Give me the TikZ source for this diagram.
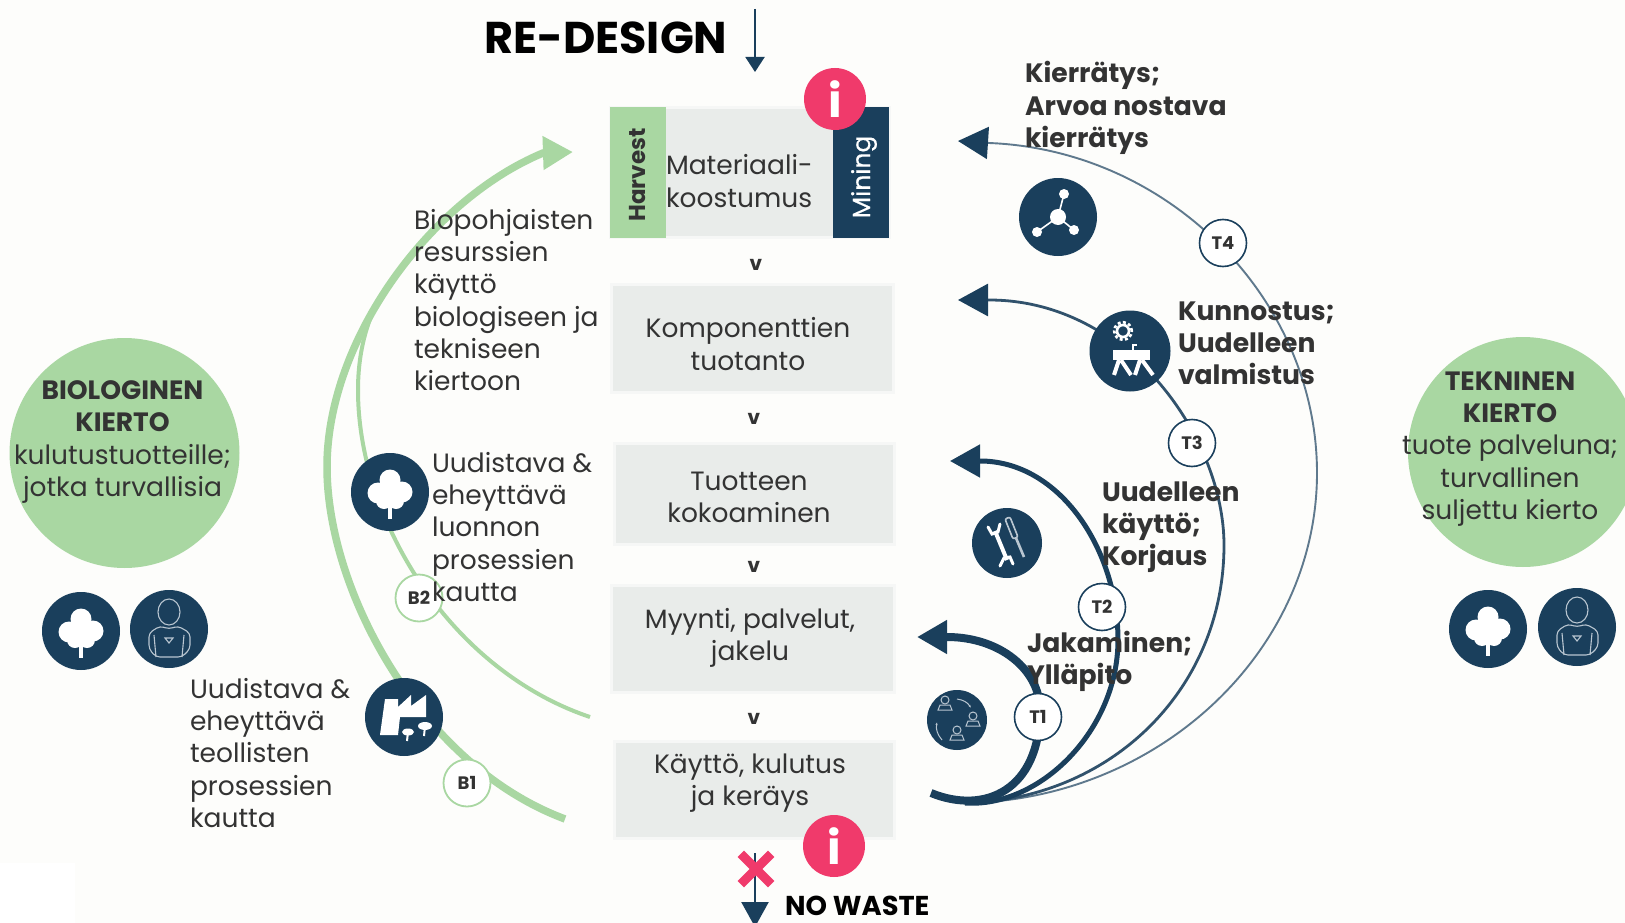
\documentclass[tikz,border=0pt]{standalone}
\usepackage{fontspec}
\setmainfont{Poppins}
\newfontfamily\medfont[FakeBold=0.35]{Poppins}
\usetikzlibrary{arrows.meta}
\definecolor{navyc}{HTML}{1A3F5C}
\definecolor{greenc}{HTML}{A9D7A2}
\definecolor{boxc}{HTML}{E9ECEA}
\definecolor{boxl}{HTML}{F6F7F6}
\definecolor{pinkc}{HTML}{F03A6B}
\definecolor{inkc}{HTML}{333333}
\definecolor{bgc}{HTML}{FDFDFB}
\definecolor{glyphl}{HTML}{B9C6D1}
\tikzset{
  bodytxt/.style={font=\fontsize{26.5}{32.2}\selectfont,text=inkc,inner sep=0,outer sep=0,align=left,anchor=west},
  midtxt/.style={font=\fontsize{26.5}{32.2}\selectfont,text=inkc,inner sep=0,outer sep=0,align=center},
  boldtxt/.style={font=\fontsize{26.6}{32.2}\selectfont\bfseries,text=inkc,inner sep=0,outer sep=0,align=left,anchor=west},
  stagebox/.style={fill=boxc,draw=boxl,line width=3pt,inner sep=0,outer sep=0},
  bigcirc/.style={circle,fill=greenc,minimum size=230pt,inner sep=0,outer sep=0},
  iconc/.style={circle,fill=navyc,inner sep=0,outer sep=0},
  tagT/.style={circle,fill=white,draw=navyc,line width=1.6pt,minimum size=47pt,inner sep=0,font=\fontsize{18}{18}\selectfont\bfseries,text=inkc},
  tagB/.style={circle,fill=white,draw=greenc,line width=1.8pt,minimum size=47pt,inner sep=0,font=\fontsize{18}{18}\selectfont\bfseries,text=inkc},
  infoc/.style={circle,fill=pinkc,minimum size=62pt,inner sep=0,text=white,font=\fontsize{46}{46}\selectfont\bfseries},
  chev/.style={font=\fontsize{20}{20}\selectfont\bfseries,text=inkc,inner sep=0},
  headn/.style={-{Triangle[length=30pt,width=32pt,color=navyc,fill=navyc]}},
  headg/.style={-{Triangle[length=30pt,width=32pt]},greenc},
  treeglyph/.pic={
    \fill[white] (0,-12) circle[radius=10.5pt] (-12,1) circle[radius=10.5pt] (12,0) circle[radius=10.5pt]
      (-6,9) circle[radius=8pt] (6,9) circle[radius=8pt] (0,0) circle[radius=13pt];
    \draw[white,line width=4pt] (0,10) -- (0,27);
  },
  personglyph/.pic={
    \draw[glyphl,line width=1.1pt] (0,-17) ellipse[x radius=11pt,y radius=13pt];
    \draw[glyphl,line width=1.1pt,rounded corners=4pt] (-9,-3) -- (-20,4) -- (-20,20) -- (-13,28) -- (13,28) -- (21,20) -- (21,4) -- (9,-3) -- (0,0) -- cycle;
    \draw[glyphl,line width=1.1pt] (-15,6) -- (-13,28) (15,6) -- (13,28);
    \draw[glyphl,line width=1.1pt] (-4,9) -- (4,9) -- (0,14) -- cycle;
  },
  moleculeglyph/.pic={
    \draw[white,line width=1.6pt] (0,0) -- (6,-23) (0,0) -- (-21,15) (0,0) -- (16,13);
    \fill[white] (0,0) circle[radius=8pt] (6,-23) circle[radius=5pt] (-21,15) circle[radius=5pt] (16,13) circle[radius=5pt];
  },
  benchglyph/.pic={
    \draw[white,line width=2.6pt] (-7,-20) circle[radius=6pt];
    \draw[white,line width=2.6pt,dash pattern=on 3pt off 2.4pt] (-7,-20) circle[radius=8.8pt];
    \fill[white] (-17,-1) -- (20,-1) -- (20,9) -- (-17,9) -- cycle;
    \draw[white,line width=1.6pt] (3,-1) -- (3,-6) -- (7,-6);
    \draw[white,line width=4pt] (-11,9) -- (-16,24) (-9,9) -- (1,24) (10,9) -- (5,24) (12,9) -- (23,24);
  },
  toolglyph/.pic={
    \draw[white,line width=4pt] (-12,-12) -- (0,17);
    \draw[white,line width=3pt,line cap=round] (-19,-16) -- (-15,-9) -- (-9,-11) -- (-7,-19);
    \draw[white,line width=3pt,line cap=round] (-7,23) -- (-3,15) -- (3,14) -- (6,21);
    \draw[glyphl,line width=1.6pt,rounded corners=2pt] (-2,-24) -- (3,-26) -- (11,-6) -- (6,-4) -- cycle;
    \draw[glyphl,line width=2.6pt] (9,-5) -- (17,14);
  },
  peopleglyph/.pic={
    \foreach \px/\py in {-12/-17,16/-1,0/13}{
      \draw[glyphl,line width=1pt] (\px,\py-3) circle[radius=4pt];
      \draw[glyphl,line width=1pt] (\px-7,\py+7) -- (\px-5,\py+2) -- (\px+5,\py+2) -- (\px+7,\py+7) -- cycle;
    }
    \draw[glyphl,line width=1pt,-{Latex[length=3pt]}] (0,-21) to[bend left=25] (14,-12);
    \draw[glyphl,line width=1pt,-{Latex[length=3pt]}] (-15,20) to[bend left=25] (-20,2);
  },
  factoryglyph/.pic={
    \fill[white] (-24,18) -- (-19,-18) -- (-6,-18) -- (-6,-10) -- (7,-22) -- (7,-11) -- (22,-22) -- (22,0) -- (-4,0) -- (-6,18) -- cycle;
    \draw[white,line width=2pt] (4,15) -- (3,24) (21,9) -- (20,19);
    \fill[white] (4,15) ellipse[x radius=6pt,y radius=3.5pt] (21,9) ellipse[x radius=7pt,y radius=4pt];
  }
}
\begin{document}
\begin{tikzpicture}[x=1pt,y=-1pt]
\fill[bgc] (0,0) rectangle (1625,923);
\useasboundingbox (0,0) rectangle (1625,923);
\fill[white] (0,863) rectangle (75,923);

% free ends of the cycle arrows
\coordinate (b1s) at (565,819);
\coordinate (b1m) at (327,467);
\coordinate (b1e) at (543,153);
\coordinate (b1t) at (573,152);
\coordinate (b2s) at (590,717);
\coordinate (b2m) at (358,390);
\coordinate (b2e) at (385,290);
\coordinate (t0) at (931,793);
\coordinate (t0b) at (965,803);
\coordinate (t1b) at (947,637);
\coordinate (t1t) at (917,637);
\coordinate (t2b) at (980,461);
\coordinate (t2t) at (950,461);
\coordinate (t3b) at (989,300);
\coordinate (t3t) at (958,300);
\coordinate (t4b) at (989,143);
\coordinate (t4t) at (958,141);
\coordinate (rd1) at (755,9);
\coordinate (rd2) at (755,72);
\coordinate (nw1) at (755,853);
\coordinate (nw2) at (755,927);

% green arcs
\draw[headg,line width=7.5pt] (b1s) .. controls (420,765) and (327,590) .. (b1m) .. controls (327,340) and (430,200) .. (b1e) -- (b1t);
\draw[greenc,line width=4pt] (b2s) .. controls (450,670) and (358,520) .. (b2m) .. controls (358,350) and (368,315) .. (b2e);

% navy arcs
\draw[headn,line width=1.9pt,draw=navyc!70] (t0b) .. controls (1160,800) and (1317,650) .. (1317,473) .. controls (1317,300) and (1170,150) .. (t4b) -- (t4t);
\draw[headn,line width=2.8pt,draw=navyc!90] (t0b) .. controls (1110,800) and (1224,690) .. (1224,545) .. controls (1224,440) and (1130,300) .. (t3b) -- (t3t);
\draw[headn,line width=5pt,draw=navyc] (t0b) .. controls (1040,808) and (1118,730) .. (1118,640) .. controls (1118,550) and (1060,461) .. (t2b) -- (t2t);
\draw[headn,line width=8pt,draw=navyc] (t0) .. controls (985,815) and (1040,790) .. (1040,710) .. controls (1040,670) and (1000,637) .. (t1b) -- (t1t);

% stage boxes
\node[stagebox,minimum width=279pt,minimum height=129pt] (box1) at (749.5,172.5) {};
\node[fill=greenc,inner sep=0,minimum width=56pt,minimum height=130pt] (harv) at (638,172.5) {};
\node[fill=navyc,inner sep=0,minimum width=56pt,minimum height=130pt] (mine) at (861,172.5) {};
\node[rotate=90,inner sep=0,text=inkc,font=\fontsize{23}{23}\selectfont\bfseries] (harvtxt) at (638,175) {Harvest};
\node[rotate=90,inner sep=0,text=white,font=\fontsize{25}{25}\selectfont\medfont] (minetxt) at (864,177) {Mining};
\node[stagebox,minimum width=282pt,minimum height=108pt] (box2) at (752,338) {};
\node[stagebox,minimum width=280pt,minimum height=101pt] (box3) at (754.5,493.5) {};
\node[stagebox,minimum width=283pt,minimum height=107pt] (box4) at (752.5,638.5) {};
\node[stagebox,minimum width=280pt,minimum height=97pt] (box5) at (754,790) {};

\node[bodytxt] (t1box) at (666,181) {Materiaali-\\koostumus};
\node[midtxt] (t2box) at (748,344) {Komponenttien\\tuotanto};
\node[midtxt] (t3box) at (749,497) {Tuotteen\\kokoaminen};
\node[midtxt] (t4box) at (750,638) {Myynti, palvelut,\\jakelu};
\node[midtxt] (t5box) at (750,783) {Käyttö, kulutus\\ja keräys};

\node[chev] (v1) at (756,265) {v};
\node[chev] (v2) at (754,419) {v};
\node[chev] (v3) at (754,567) {v};
\node[chev] (v4) at (754,719) {v};

% top and bottom
\node[inner sep=0,anchor=west,text=black,font=\fontsize{44.5}{44.5}\selectfont\bfseries] (redesign) at (484,38) {RE-DESIGN};
\draw[navyc,line width=2pt,-{Triangle[length=15pt,width=19pt]}] (rd1) -- (rd2);
\draw[navyc,line width=2.4pt,-{Triangle[length=25pt,width=27pt]}] (nw1) -- (nw2);
\node[minimum size=30pt,inner sep=0] (xmark) at (756,869) {};
\draw[pinkc,line width=9pt] (xmark.north west) -- (xmark.south east) (xmark.north east) -- (xmark.south west);
\node[inner sep=0,anchor=west,text=black,font=\fontsize{27.3}{27.3}\selectfont\bfseries] (nowaste) at (785,906) {NO WASTE};
\node[infoc] (info1) at (835,99) {i};
\node[infoc] (info2) at (834,846) {i};

% big circles
\node[bigcirc] (bio) at (124.5,453) {};
\node[bigcirc] (tek) at (1523,452) {};
\node[midtxt] (biotxt) at (122.5,442) {\textbf{BIOLOGINEN}\\\textbf{KIERTO}\\kulutustuotteille;\\jotka turvallisia};
\node[midtxt] (tektxt) at (1510,449) {\textbf{TEKNINEN}\\\textbf{KIERTO}\hspace*{8pt}\\tuote palveluna;\\turvallinen\\suljettu kierto};

% icon discs
\node[iconc,minimum size=78pt] (ictree1) at (81,631) {};
\node[iconc,minimum size=78pt] (icper1) at (169,629) {};
\node[iconc,minimum size=78pt] (ictree2) at (1488,629) {};
\node[iconc,minimum size=78pt] (icper2) at (1577,627) {};
\node[iconc,minimum size=78pt] (ictree3) at (390,492) {};
\node[iconc,minimum size=78pt] (icfact) at (404,717) {};
\node[iconc,minimum size=78pt] (icmol) at (1058,217) {};
\node[iconc,minimum size=81pt] (icbench) at (1130,351) {};
\node[iconc,minimum size=70pt] (ictool) at (1007,543) {};
\node[iconc,minimum size=60pt] (icpeople) at (957,720) {};
\pic at (ictree1) {treeglyph};
\pic at (icper1) {personglyph};
\pic at (ictree2) {treeglyph};
\pic at (icper2) {personglyph};
\pic at (ictree3) {treeglyph};
\pic at (icfact) {factoryglyph};
\pic at (icmol) {moleculeglyph};
\pic at (icbench) {benchglyph};
\pic at (ictool) {toolglyph};
\pic at (icpeople) {peopleglyph};

% tags
\node[tagT] (T1) at (1038,717) {T1};
\node[tagT] (T2) at (1102,607) {T2};
\node[tagT] (T3) at (1192,443) {T3};
\node[tagT] (T4) at (1223,243) {T4};
\node[tagB] (B1) at (467,783) {B1};
\node[tagB] (B2) at (419,598) {B2};

% side texts
\node[bodytxt] (bio1) at (414,300) {Biopohjaisten\\resurssien\\käyttö\\biologiseen ja\\tekniseen\\kiertoon};
\node[bodytxt] (bio2) at (432,527) {Uudistava \&\\eheyttävä\\luonnon\\prosessien\\kautta};
\node[bodytxt] (bio3) at (190,753) {Uudistava \&\\eheyttävä\\teollisten\\prosessien\\kautta};
\node[boldtxt] (tek4) at (1025,108) {Kierrätys;\\Arvoa nostava\\kierrätys};
\node[boldtxt] (tek3) at (1178,343) {Kunnostus;\\Uudelleen\\valmistus};
\node[boldtxt] (tek2) at (1102,527) {Uudelleen\\käyttö;\\Korjaus};
\node[boldtxt] (tek1) at (1027,661) {Jakaminen;\\Ylläpito};
\end{tikzpicture}
\end{document}
